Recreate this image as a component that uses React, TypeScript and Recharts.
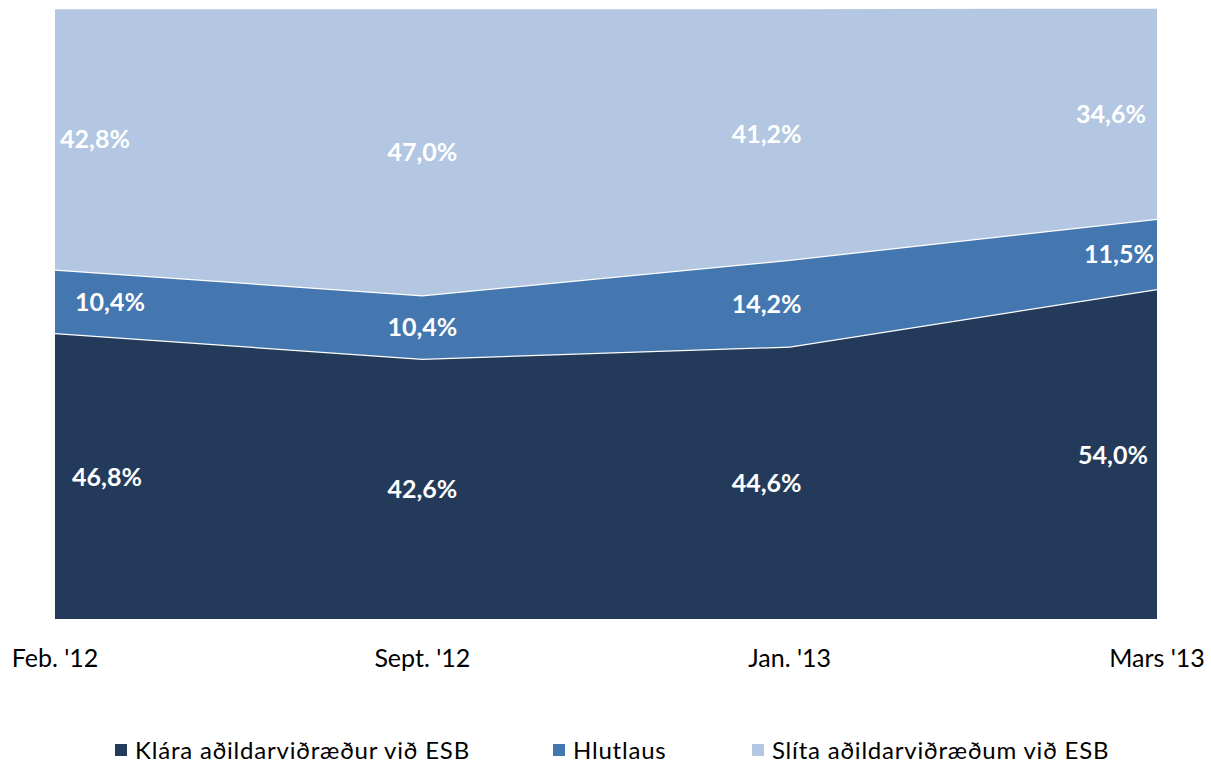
import { ComposedChart, Area, Line, XAxis, YAxis, LabelList } from "recharts";

const periods = ["Feb. '12", "Sept. '12", "Jan. '13", "Mars '13"];
const klara = [46.8, 42.6, 44.6, 54.0];
const hlutlaus = [10.4, 10.4, 14.2, 11.5];
const slita = [42.8, 47.0, 41.2, 34.6];

const klaraLabels = ["46,8%", "42,6%", "44,6%", "54,0%"];
const hlutlausLabels = ["10,4%", "10,4%", "14,2%", "11,5%"];
const slitaLabels = ["42,8%", "47,0%", "41,2%", "34,6%"];

const seriesNames = [
  "Klára aðildarviðræður við ESB",
  "Hlutlaus",
  "Slíta aðildarviðræðum við ESB",
];
const colors = ["#243a5a", "#4476b0", "#b3c7e2"];

const data = periods.map((p, i) => ({
  period: p,
  klara: klara[i],
  hlutlaus: hlutlaus[i],
  slita: slita[i],
  // middles of each band, used to place the labels
  midK: klara[i] / 2,
  midH: klara[i] + hlutlaus[i] / 2,
  midS: klara[i] + hlutlaus[i] + slita[i] / 2,
}));

// horizontal nudges of the labels, as Excel placed them
const shiftK = [52, 0, -23, -44];
const shiftH = [55, 0, -23, -38];
const shiftS = [40, 0, -23, -46];
const font = "Lato, 'Open Sans', sans-serif";

const makeLabel = (texts: string[], shift: number[]) => (props: any) => {
  const { x, y, index } = props;
  return (
    <text
      x={x + shift[index]}
      y={y}
      dy="0.38em"
      textAnchor="middle"
      fill="#fff"
      fontFamily={font}
      fontWeight={700}
      fontSize={25}
    >
      {texts[index]}
    </text>
  );
};

const legendLeft = [115, 553, 752];

export default function App() {
  return (
    <div style={{ position: "absolute", left: 0, top: 0, width: 1211, height: 764 }}>
      <ComposedChart
        width={1211}
        height={764}
        data={data}
        margin={{ top: 8, right: 54, left: 55, bottom: 85 }}
      >
        <XAxis
          dataKey="period"
          scale="point"
          interval={0}
          tickLine={false}
          axisLine={false}
          height={60}
          tickMargin={24}
          tick={{ fill: "#000", fontSize: 25, fontFamily: font }}
        />
        <YAxis hide domain={[0, 100]} allowDataOverflow />
        <Area
          dataKey="klara"
          stackId="1"
          type="linear"
          fill={colors[0]}
          fillOpacity={1}
          stroke="#fff"
          strokeWidth={2.5}
          isAnimationActive={false}
        />
        <Area
          dataKey="hlutlaus"
          stackId="1"
          type="linear"
          fill={colors[1]}
          fillOpacity={1}
          stroke="#fff"
          strokeWidth={2.5}
          isAnimationActive={false}
        />
        <Area
          dataKey="slita"
          stackId="1"
          type="linear"
          fill={colors[2]}
          fillOpacity={1}
          stroke="#fff"
          strokeWidth={2.5}
          isAnimationActive={false}
        />
        <Line dataKey="midK" stroke="none" dot={false} activeDot={false} isAnimationActive={false}>
          <LabelList content={makeLabel(klaraLabels, shiftK)} />
        </Line>
        <Line dataKey="midH" stroke="none" dot={false} activeDot={false} isAnimationActive={false}>
          <LabelList content={makeLabel(hlutlausLabels, shiftH)} />
        </Line>
        <Line dataKey="midS" stroke="none" dot={false} activeDot={false} isAnimationActive={false}>
          <LabelList content={makeLabel(slitaLabels, shiftS)} />
        </Line>
      </ComposedChart>
      {seriesNames.map((name, i) => (
        <div
          key={name}
          style={{
            position: "absolute",
            left: legendLeft[i],
            top: 735,
            display: "flex",
            alignItems: "center",
            fontFamily: font,
            fontSize: 24,
            letterSpacing: 0.8,
            color: "#000",
            whiteSpace: "nowrap",
          }}
        >
          <span
            style={{
              display: "inline-block",
              width: 12,
              height: 12,
              background: colors[i],
              marginRight: 8,
            }}
          />
          {name}
        </div>
      ))}
    </div>
  );
}
